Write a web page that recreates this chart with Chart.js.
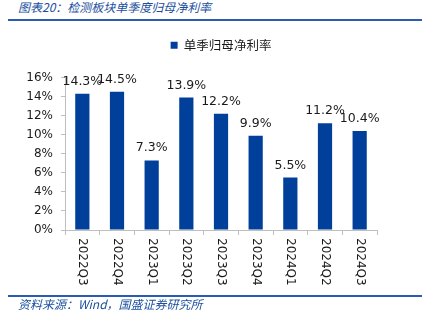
<!DOCTYPE html>
<html>
<head>
<meta charset="utf-8">
<script src="https://cdn.jsdelivr.net/npm/chart.js@4"></script>
<style>
  html, body { margin: 0; padding: 0; background: #fff; }
  body { width: 422px; height: 322px; position: relative; overflow: hidden; }
  #wrap { position: absolute; left: 0; top: 0; width: 422px; height: 322px; }
  .cap { position: absolute; left: 18px; font: italic 12px "Noto Sans CJK SC", sans-serif; color: #1b4f9e; white-space: nowrap; line-height: 14px; }
  .rule { position: absolute; left: 8px; right: 0; height: 2px; background: #2a5cb3; }
</style>
</head>
<body>
<div class="cap" style="top:0px">图表20：检测板块单季度归母净利率</div>
<div class="rule" style="top:19px"></div>
<div id="wrap"><canvas id="chart"></canvas></div>
<div class="rule" style="top:295px"></div>
<div class="cap" style="top:297px">资料来源：Wind，国盛证券研究所</div>
<script>
const quarters = ["2022Q3", "2022Q4", "2023Q1", "2023Q2", "2023Q3", "2023Q4", "2024Q1", "2024Q2", "2024Q3"];
const netMargin = [14.3, 14.5, 7.3, 13.9, 12.2, 9.9, 5.5, 11.2, 10.4];
const seriesName = "单季归母净利率";
const yTicks = [0, 2, 4, 6, 8, 10, 12, 14, 16];

const barColor = "#003f9a";
const textFont = "DejaVu Sans";

// value labels above each bar
const valueLabels = {
  id: "valueLabels",
  afterDatasetsDraw(chart) {
    const ctx = chart.ctx;
    const meta = chart.getDatasetMeta(0);
    ctx.save();
    ctx.font = "12.5px " + textFont;
    ctx.fillStyle = "#1a1a1a";
    ctx.textAlign = "center";
    ctx.textBaseline = "alphabetic";
    meta.data.forEach((bar, i) => {
      ctx.fillText(netMargin[i].toFixed(1) + "%", bar.x, bar.y - 9);
    });
    ctx.restore();
  }
};

// x labels read top to bottom (turned clockwise)
const downLabels = {
  id: "downLabels",
  afterDraw(chart) {
    const ctx = chart.ctx;
    const xs = chart.scales.x;
    ctx.save();
    ctx.font = "12px " + textFont;
    ctx.fillStyle = "#1a1a1a";
    ctx.textAlign = "left";
    ctx.textBaseline = "middle";
    quarters.forEach((q, i) => {
      ctx.save();
      ctx.translate(xs.getPixelForTick(i), chart.chartArea.bottom + 8);
      ctx.rotate(Math.PI / 2);
      ctx.fillText(q, 0, 0);
      ctx.restore();
    });
    ctx.restore();
  }
};

document.addEventListener("DOMContentLoaded", function () {
  const ctx = document.getElementById("chart").getContext("2d");
  new Chart(ctx, {
    type: "bar",
    data: {
      labels: quarters,
      datasets: [{
        label: seriesName,
        data: netMargin,
        backgroundColor: barColor,
        barPercentage: 0.41,
        categoryPercentage: 1
      }]
    },
    options: {
      responsive: true,
      maintainAspectRatio: false,
      animation: false,
      layout: { padding: { top: 27, left: 0, right: 45, bottom: 72 } },
      plugins: {
        legend: {
          display: true,
          fullSize: false,
          labels: {
            boxWidth: 7,
            boxHeight: 7,
            padding: 12,
            color: "#1a1a1a",
            font: { family: "Noto Sans CJK SC", size: 12.5 }
          }
        },
        // empty box used as a gap between legend and plot
        subtitle: {
          display: true,
          text: "",
          weight: 500,
          padding: 0,
          font: { size: 16, lineHeight: 1 }
        },
        tooltip: { enabled: false }
      },
      scales: {
        x: {
          ticks: { display: false },
          grid: { offset: true, drawOnChartArea: false, tickLength: 5, color: "#bfbfbf" },
          border: { color: "#bfbfbf" },
          afterFit: (s) => { s.height = 20; }
        },
        y: {
          min: 0,
          max: 16,
          afterBuildTicks: (s) => { s.ticks = yTicks.map(v => ({ value: v })); },
          ticks: {
            color: "#1a1a1a",
            padding: 8,
            font: { family: textFont, size: 12 },
            callback: (v) => v + "%"
          },
          grid: { drawOnChartArea: false, tickLength: 4, color: "#bfbfbf" },
          border: { color: "#bfbfbf" },
          afterFit: (s) => { s.width = 65; }
        }
      }
    },
    plugins: [valueLabels, downLabels]
  });
});
</script>
</body>
</html>
